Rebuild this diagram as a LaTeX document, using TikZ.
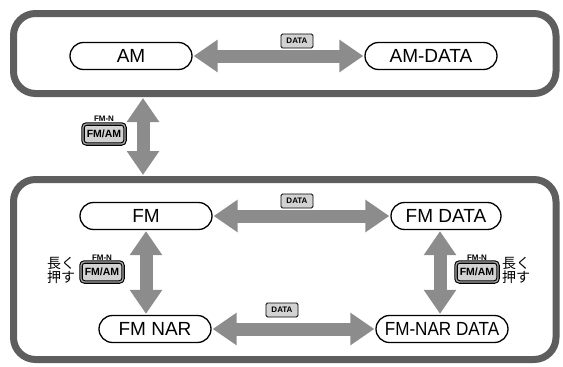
\documentclass[tikz,border=0pt]{standalone}
\usepackage{fontspec}
\setmainfont{Liberation Sans}
\newfontfamily\jpfont{Noto Sans CJK JP}
\usetikzlibrary{arrows.meta}
\definecolor{framegray}{HTML}{5E5E5E}
\definecolor{arrowgray}{HTML}{8C8C8C}
\definecolor{keygray}{HTML}{D2D2D2}
\tikzset{
  frame/.style={draw=framegray, line width=7pt, rounded corners=22pt},
  pill/.style={draw=black, line width=1.3pt, rounded corners=13.5pt, minimum height=27pt, inner sep=0pt, font=\fontsize{19}{19}\selectfont},
  bigarrow/.style={draw=arrowgray, line width=13pt, {Triangle[width=31pt,length=24pt]}-{Triangle[width=31pt,length=24pt]}, shorten <=1pt, shorten >=1pt},
  datakey/.style={draw=black, line width=0.8pt, fill=keygray, rounded corners=1.5pt, minimum width=32pt, minimum height=14pt, inner sep=0pt, font=\fontsize{8}{8}\selectfont\bfseries},
  modekey/.style={draw=black, line width=1.1pt, double=gray!70, double distance=1.3pt, fill=keygray, rounded corners=3.5pt, minimum width=42pt, minimum height=20pt, inner sep=0pt, font=\fontsize{10.5}{10.5}\selectfont\bfseries},
  keylabel/.style={font=\fontsize{8}{8}\selectfont\bfseries, inner sep=0pt},
  jplabel/.style={font=\jpfont\fontsize{14}{12.5}\selectfont, align=center, inner sep=0pt}
}
\begin{document}
\begin{tikzpicture}[x=1pt,y=-1pt]
\useasboundingbox (0,0) rectangle (563,367);
% frames
\draw[frame] (13.5,13.5) rectangle (556,93.5);
\draw[frame] (13.5,179.5) rectangle (556,359.5);
% nodes
\node[pill, minimum width=122pt] (am) at (131,56) {AM};
\node[pill, minimum width=132pt] (amdata) at (431,56) {AM-DATA};
\node[pill, minimum width=132pt] (fm) at (146,216) {FM};
\node[pill, minimum width=110pt] (fmdata) at (446,216) {FM DATA};
\node[pill, minimum width=112pt] (fmnar) at (155,329) {FM NAR};
\node[pill, minimum width=132pt] (fmnardata) at (442,329) {\scalebox{0.9}[1]{FM-NAR DATA}};
% frame anchors for vertical arrow
\coordinate (topbot) at (143,97);
\coordinate (bottop) at (143,176);
% arrows
\draw[bigarrow] (am.east) -- (amdata.west);
\draw[bigarrow] (topbot) -- (bottop);
\draw[bigarrow] (fm.east) -- (fmdata.west);
\draw[bigarrow] (fmnar.east) -- (fmnardata.west);
\draw[bigarrow] (fm.south -| 146,0) -- (fmnar.north -| 146,0);
\draw[bigarrow] (fmdata.south -| 440,0) -- (fmnardata.north -| 440,0);
% keys
\node[datakey] (k1) at (297,41) {DATA};
\node[datakey] (k2) at (297,201) {DATA};
\node[datakey] (k3) at (282,310) {DATA};
\node[modekey] (m1) at (104,134) {FM/AM};
\node[keylabel] (n1) at (104,119) {FM-N};
\node[modekey] (m2) at (102,272) {FM/AM};
\node[keylabel] (n2) at (102,258) {FM-N};
\node[modekey] (m3) at (477,272) {FM/AM};
\node[keylabel] (n3) at (477,258) {FM-N};
\node[jplabel] (j1) at (61,270) {長く\\押す};
\node[jplabel] (j2) at (516,270) {長く\\押す};
\end{tikzpicture}
\end{document}
